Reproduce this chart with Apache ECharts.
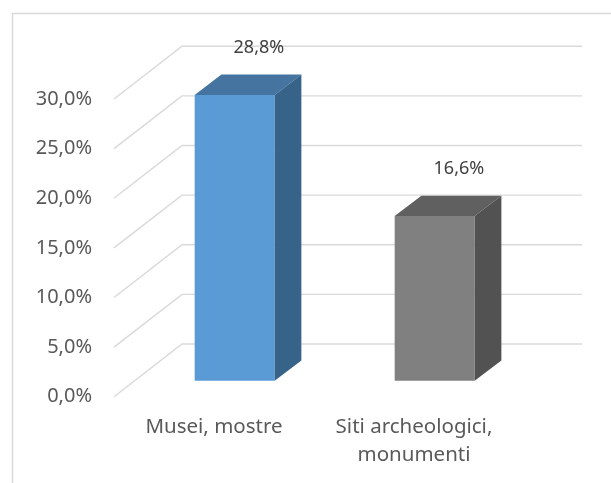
<!DOCTYPE html>
<html>
<head>
<meta charset="utf-8">
<script src="https://cdn.jsdelivr.net/npm/echarts@6/dist/echarts.min.js"></script>
<style>
  html, body { margin: 0; padding: 0; background: #ffffff; }
  #chart { width: 611px; height: 483px; }
</style>
</head>
<body>
<div id="chart"></div>
<script>
// Categories and shares (percent)
const categories = ['Musei, mostre', 'Siti archeologici,\nmonumenti'];
const shares = [28.8, 16.6];
// Value axis ticks
const tickValues = [0, 5, 10, 15, 20, 25, 30];

// Style constants for the oblique 3D look
const FONT = 'Noto Sans';
const GRID_COLOR = '#D9D9D9';
const DEPTH = [68, -52.7];          // floor depth vector (front wall -> back wall)
const BAR_PLANE = 0.304;            // fraction of depth where bar front faces sit
const BAR_DEPTH = [26.7, -20.3];    // bar thickness in depth
const BAR_WIDTH_RATIO = 0.4;        // bar front width relative to the band
const FACE_COLORS = [
  { front: '#5B9BD5', top: '#44749F', side: '#386388' },
  { front: '#808080', top: '#606060', side: '#525252' }
];

function pct(v) { return v.toFixed(1).replace('.', ',') + '%'; }

const chart = echarts.init(document.getElementById('chart'));

// Walls: diagonal from front edge to back wall, then horizontal back gridline
function renderWall(params, api) {
  const v = api.value(1);
  const c = api.coord([0, v]);
  const band = api.size([1, 0])[0];
  const left = c[0] - band / 2;
  const plotW = band * categories.length;
  const bx = left + DEPTH[0], by = c[1] + DEPTH[1];
  return {
    type: 'polyline',
    shape: { points: [[left, c[1]], [bx, by], [bx + plotW, by]] },
    style: { stroke: GRID_COLOR, lineWidth: 1.4, fill: null },
    silent: true
  };
}

// Bars: front, top and right side faces plus a value label
function renderBar(params, api) {
  const i = api.value(0);
  const v = api.value(1);
  const top = api.coord([i, v]);
  const base = api.coord([i, 0]);
  const band = api.size([1, 0])[0];
  const w = band * BAR_WIDTH_RATIO;
  const ox = DEPTH[0] * BAR_PLANE, oy = DEPTH[1] * BAR_PLANE;
  const x0 = top[0] - w / 2 + ox, x1 = top[0] + w / 2 + ox;
  const yt = top[1] + oy, yb = base[1] + oy;
  const dx = BAR_DEPTH[0], dy = BAR_DEPTH[1];
  const col = FACE_COLORS[params.dataIndex];
  return {
    type: 'group',
    children: [
      { type: 'polygon', shape: { points: [[x0, yt], [x1, yt], [x1, yb], [x0, yb]] },
        style: { fill: col.front } },
      { type: 'polygon', shape: { points: [[x0, yt], [x1, yt], [x1 + dx, yt + dy], [x0 + dx, yt + dy]] },
        style: { fill: col.top } },
      { type: 'polygon', shape: { points: [[x1, yt], [x1 + dx, yt + dy], [x1 + dx, yb + dy], [x1, yb]] },
        style: { fill: col.side } },
      { type: 'text',
        style: {
          x: (x0 + x1) / 2 + dx - 2.5, y: yt + dy - 27,
          text: pct(v), fill: '#404040', font: '18px "' + FONT + '"',
          align: 'center', verticalAlign: 'middle'
        } }
    ]
  };
}

chart.setOption({
  animation: false,
  backgroundColor: '#ffffff',
  graphic: [{
    type: 'rect', left: 10, top: 11,
    shape: { width: 700, height: 600 },
    style: { fill: null, stroke: GRID_COLOR, lineWidth: 1.5 },
    silent: true, z: 0
  }],
  grid: { left: 114, right: 97, top: 99, bottom: 86.3, outerBoundsMode: 'none' },
  xAxis: {
    type: 'category',
    data: categories,
    axisLine: { show: false },
    axisTick: { show: false },
    axisLabel: {
      color: '#595959', fontFamily: FONT, fontSize: 20.5,
      lineHeight: 28, margin: 16, verticalAlign: 'top', interval: 0
    }
  },
  yAxis: {
    type: 'value',
    min: 0, max: 30, interval: 5,
    axisLine: { show: false },
    axisTick: { show: false },
    splitLine: { show: false },
    axisLabel: {
      color: '#595959', fontFamily: FONT, fontSize: 20, margin: 22,
      formatter: pct
    }
  },
  series: [
    {
      type: 'custom',
      renderItem: renderWall,
      data: tickValues.map(v => [0, v]),
      encode: { x: 0, y: 1 },
      z: 1, silent: true
    },
    {
      type: 'custom',
      renderItem: renderBar,
      data: shares.map((v, i) => [i, v]),
      encode: { x: 0, y: 1 },
      z: 2
    }
  ]
});
</script>
</body>
</html>
